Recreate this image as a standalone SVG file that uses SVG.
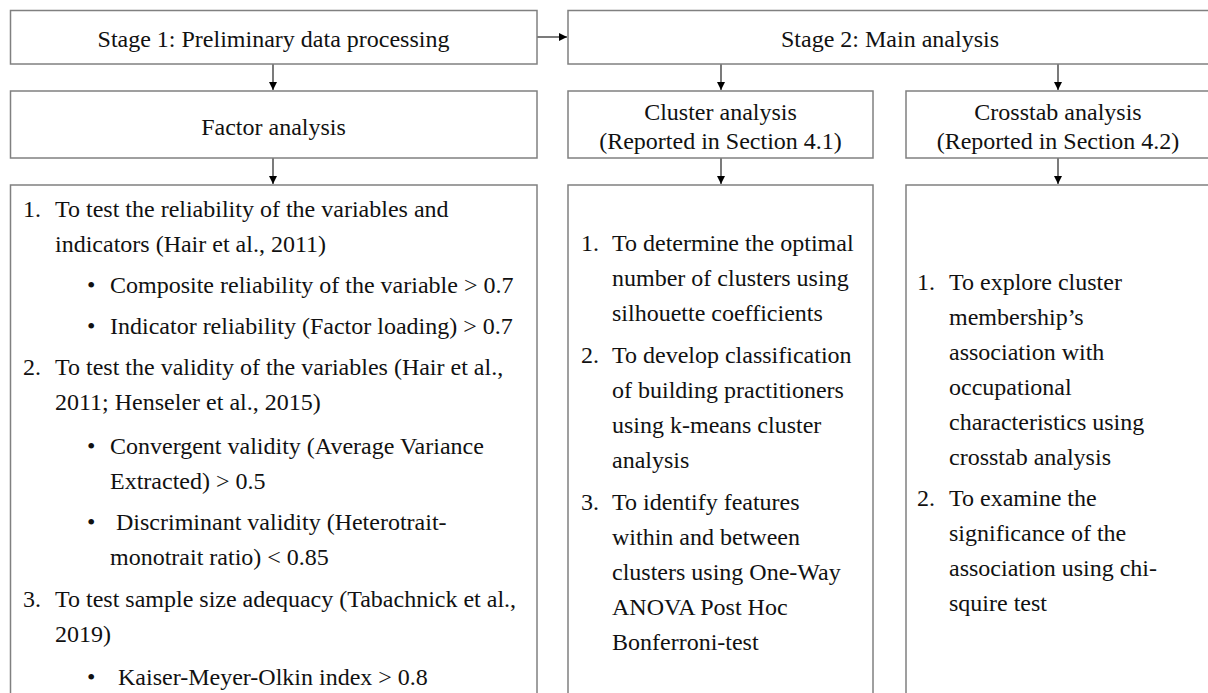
<svg xmlns="http://www.w3.org/2000/svg" width="1208" height="693" viewBox="0 0 1208 693">
<defs>
<style>
.box{fill:#fff;stroke:#808080;stroke-width:1.5}
.t{font-family:"Liberation Serif","Times New Roman",serif;font-size:24px;fill:#111}
.c{text-anchor:middle}
.e{stroke:#333;stroke-width:1.3;fill:none}
</style>
<marker id="ah" viewBox="0 0 10 10" refX="10" refY="5" markerWidth="8" markerHeight="8" markerUnits="userSpaceOnUse" orient="auto">
<path d="M0,0 L10,5 L0,10 Z" fill="#000"/>
</marker>
</defs>
<rect width="1208" height="693" fill="#fff"/>
<g id="connectors">
<line class="e" x1="537" y1="37" x2="567" y2="37" marker-end="url(#ah)"/>
<line class="e" x1="273" y1="64" x2="273" y2="90" marker-end="url(#ah)"/>
<line class="e" x1="273" y1="158" x2="273" y2="184" marker-end="url(#ah)"/>
<line class="e" x1="721" y1="64" x2="721" y2="90" marker-end="url(#ah)"/>
<line class="e" x1="1058" y1="64" x2="1058" y2="90" marker-end="url(#ah)"/>
<line class="e" x1="721" y1="158" x2="721" y2="184" marker-end="url(#ah)"/>
<line class="e" x1="1058" y1="158" x2="1058" y2="184" marker-end="url(#ah)"/>
</g>
<g id="stage1">
<rect class="box" x="10.5" y="10.5" width="526.5" height="53.5"/>
<text class="t c" x="273.5" y="47">Stage 1: Preliminary data processing</text>
</g>
<g id="stage2">
<rect class="box" x="568" y="10.5" width="650" height="53.5"/>
<text class="t c" x="890" y="47">Stage 2: Main analysis</text>
</g>
<g id="factor">
<rect class="box" x="10.5" y="91" width="526.5" height="67"/>
<text class="t c" x="273.5" y="135">Factor analysis</text>
</g>
<g id="cluster">
<rect class="box" x="568" y="91" width="305" height="67"/>
<text class="t c" x="720.5" y="120">Cluster analysis</text>
<text class="t c" x="720.5" y="149">(Reported in Section 4.1)</text>
</g>
<g id="crosstab">
<rect class="box" x="906" y="91" width="310" height="67"/>
<text class="t c" x="1058" y="120">Crosstab analysis</text>
<text class="t c" x="1058" y="149">(Reported in Section 4.2)</text>
</g>
<g id="factor-details">
<rect class="box" x="10.5" y="185" width="526.5" height="540"/>
<text class="t" x="23" y="217">1.</text>
<text class="t" x="55" y="217">To test the reliability of the variables and</text>
<text class="t" x="55" y="252">indicators (Hair et al., 2011)</text>
<text class="t" x="87" y="293">•</text>
<text class="t" x="110" y="293">Composite reliability of the variable &gt; 0.7</text>
<text class="t" x="87" y="334">•</text>
<text class="t" x="110" y="334">Indicator reliability (Factor loading) &gt; 0.7</text>
<text class="t" x="23" y="375">2.</text>
<text class="t" x="55" y="375">To test the validity of the variables (Hair et al.,</text>
<text class="t" x="55" y="410">2011; Henseler et al., 2015)</text>
<text class="t" x="87" y="454">•</text>
<text class="t" x="110" y="454">Convergent validity (Average Variance</text>
<text class="t" x="110" y="489">Extracted) &gt; 0.5</text>
<text class="t" x="87" y="530">•</text>
<text class="t" x="116" y="530">Discriminant validity (Heterotrait-</text>
<text class="t" x="110" y="565">monotrait ratio) &lt; 0.85</text>
<text class="t" x="23" y="607">3.</text>
<text class="t" x="55" y="607">To test sample size adequacy (Tabachnick et al.,</text>
<text class="t" x="55" y="642">2019)</text>
<text class="t" x="87" y="685">•</text>
<text class="t" x="118" y="685">Kaiser-Meyer-Olkin index &gt; 0.8</text>
</g>
<g id="cluster-details">
<rect class="box" x="568" y="185" width="305" height="540"/>
<text class="t" x="581" y="251">1.</text>
<text class="t" x="612" y="251">To determine the optimal</text>
<text class="t" x="612" y="286">number of clusters using</text>
<text class="t" x="612" y="321">silhouette coefficients</text>
<text class="t" x="581" y="363">2.</text>
<text class="t" x="612" y="363">To develop classification</text>
<text class="t" x="612" y="398">of building practitioners</text>
<text class="t" x="612" y="433">using k-means cluster</text>
<text class="t" x="612" y="468">analysis</text>
<text class="t" x="581" y="510">3.</text>
<text class="t" x="612" y="510">To identify features</text>
<text class="t" x="612" y="545">within and between</text>
<text class="t" x="612" y="580">clusters using One-Way</text>
<text class="t" x="612" y="615">ANOVA Post Hoc</text>
<text class="t" x="612" y="650">Bonferroni-test</text>
</g>
<g id="crosstab-details">
<rect class="box" x="906" y="185" width="310" height="540"/>
<text class="t" x="917" y="290">1.</text>
<text class="t" x="949" y="290">To explore cluster</text>
<text class="t" x="949" y="325">membership’s</text>
<text class="t" x="949" y="360">association with</text>
<text class="t" x="949" y="395">occupational</text>
<text class="t" x="949" y="430">characteristics using</text>
<text class="t" x="949" y="465">crosstab analysis</text>
<text class="t" x="917" y="506">2.</text>
<text class="t" x="949" y="506">To examine the</text>
<text class="t" x="949" y="541">significance of the</text>
<text class="t" x="949" y="576">association using chi-</text>
<text class="t" x="949" y="611">squire test</text>
</g>
</svg>
